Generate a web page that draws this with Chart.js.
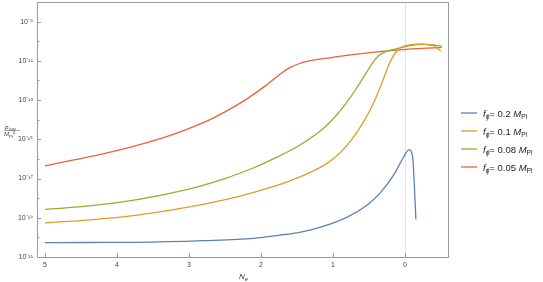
<!DOCTYPE html>
<html>
<head>
<meta charset="utf-8">
<script src="https://cdn.jsdelivr.net/npm/chart.js@4/dist/chart.umd.min.js"></script>
<style>
  body { margin: 0; background: #fff; }
  canvas { display: block; }
</style>
</head>
<body>
<canvas id="myChart" width="543" height="282"></canvas>
<script>
// e-folds N_e and rho / M_Pl^4
var blueN = [5.0, 4.4, 3.72, 2.79, 2.1, 1.74, 1.5, 1.27, 0.81, 0.53, 0.35, 0.16, 0.02, -0.03, -0.06, -0.09, -0.11, -0.13, -0.15];
var blueRho = [5.4e-21, 5.5e-21, 5.6e-21, 6.8e-21, 8.9e-21, 1.3e-20, 1.7e-20, 2.6e-20, 1.05e-19, 4.4e-19, 1.74e-18, 1.48e-17, 1.26e-16, 2.5e-16, 3.0e-16, 2.2e-16, 8.5e-17, 3.7e-18, 8.3e-20];

var orangeN = [5.0, 4.42, 3.72, 3.03, 2.33, 1.8, 1.4, 1.15, 1.0, 0.88, 0.75, 0.6, 0.45, 0.32, 0.2, 0.12, 0.04, -0.1, -0.25, -0.39, -0.5];
var orangeRho = [5.5e-20, 7.6e-20, 1.38e-19, 3.4e-19, 1.17e-18, 4.2e-18, 1.51e-17, 4.17e-17, 1.0e-16, 2.5e-16, 8.9e-16, 5.6e-15, 5.6e-14, 7.9e-13, 1.0e-11, 3.0e-11, 5.2e-11, 6.8e-11, 7.1e-11, 5.9e-11, 3.16e-11];

var greenN = [5.0, 4.42, 3.72, 3.03, 2.5, 2.1, 1.8, 1.5, 1.25, 1.1, 0.95, 0.8, 0.65, 0.53, 0.45, 0.38, 0.3, 0.2, 0.07, -0.16, -0.35, -0.51];
var greenRho = [2.69e-19, 3.89e-19, 8.5e-19, 2.75e-18, 1.0e-17, 3.55e-17, 1.12e-16, 4.17e-16, 1.66e-15, 4.68e-15, 1.74e-14, 8.5e-14, 5.5e-13, 2.75e-12, 7.9e-12, 1.66e-11, 2.63e-11, 3.47e-11, 4.57e-11, 6.8e-11, 6.6e-11, 5.6e-11];

var redN = [5.0, 4.6, 4.18, 3.72, 3.26, 2.8, 2.5, 2.2, 1.95, 1.75, 1.6, 1.45, 1.3, 1.0, 0.76, 0.07, -0.51];
var redRho = [4.47e-17, 8.9e-17, 1.86e-16, 4.9e-16, 1.58e-15, 7.1e-15, 2.5e-14, 1.12e-13, 5.0e-13, 1.9e-12, 4.5e-12, 7.6e-12, 1.05e-11, 1.51e-11, 2.0e-11, 3.6e-11, 4.9e-11];

var fValues = ["0.2", "0.1", "0.08", "0.05"];
var colors = ["#5E81B5", "#E19C24", "#8FB032", "#EB6235"];
var xTicks = [0, 1, 2, 3, 4, 5];
var yDecades = [-21, -20, -19, -18, -17, -16, -15, -14, -13, -12, -11, -10, -9];

var FONT = "'Liberation Sans', Arial, sans-serif";

function pts(xs, ys) {
  return xs.map(function (x, i) { return { x: x, y: ys[i] }; });
}

function sup(n) {
  var m = { "-": "\u207B", "0": "\u2070", "1": "\u00B9", "2": "\u00B2", "3": "\u00B3", "4": "\u2074",
            "5": "\u2075", "6": "\u2076", "7": "\u2077", "8": "\u2078", "9": "\u2079" };
  return String(n).split("").map(function (c) { return m[c]; }).join("");
}

// draws text pieces with italic / subscript / superscript parts
function rich(ctx, x, y, parts, size) {
  parts.forEach(function (p) {
    var s = p.sub || p.sup ? size * 0.7 : size;
    ctx.font = (p.it ? "italic " : "") + s + "px " + FONT;
    var dy = p.sub ? size * 0.3 : (p.sup ? -size * 0.4 : 0);
    ctx.fillText(p.t, x, y + dy);
    x += ctx.measureText(p.t).width;
  });
  return x;
}

var decor = {
  id: "decor",
  afterDraw: function (chart) {
    var ctx = chart.ctx, a = chart.chartArea;
    var xs = chart.scales.x, ys = chart.scales.y;
    ctx.save();
    // frame
    ctx.strokeStyle = "#9a9a9a";
    ctx.lineWidth = 1;
    ctx.strokeRect(a.left + 0.5, a.top + 0.5, a.right - a.left - 1, a.bottom - a.top);
    // inward ticks
    ctx.beginPath();
    xTicks.forEach(function (v) {
      var px = Math.round(xs.getPixelForValue(v)) + 0.5;
      ctx.moveTo(px, a.bottom); ctx.lineTo(px, a.bottom - 4);
    });
    yDecades.forEach(function (e) {
      var py = Math.round(ys.getPixelForValue(Math.pow(10, e))) + 0.5;
      var len = (e % 2 !== 0) ? 4 : 2.5;
      ctx.moveTo(a.left, py); ctx.lineTo(a.left + len, py);
    });
    ctx.stroke();

    ctx.fillStyle = "#333";
    ctx.textBaseline = "alphabetic";
    // x title
    rich(ctx, 239, 279, [{ t: "N", it: true }, { t: "e", it: true, sub: true }], 8);
    // y title as a fraction
    ctx.textAlign = "left";
    rich(ctx, 5, 129, [{ t: "\u03C1", it: true }, { t: "GW", sub: true }], 6);
    ctx.beginPath();
    ctx.strokeStyle = "#555";
    ctx.lineWidth = 0.5;
    ctx.moveTo(4, 130.5); ctx.lineTo(20, 130.5);
    ctx.stroke();
    rich(ctx, 4, 136, [{ t: "M", it: true }, { t: "Pl", sub: true }, { t: "4", sup: true }], 6);

    // legend
    fValues.forEach(function (f, i) {
      var y = 113 + i * 18;
      ctx.strokeStyle = colors[i];
      ctx.lineWidth = 1.3;
      ctx.beginPath();
      ctx.moveTo(461, y); ctx.lineTo(477, y);
      ctx.stroke();
      ctx.fillStyle = "#222";
      rich(ctx, 483, y + 3.5, [
        { t: "f", it: true }, { t: "\u03D5", it: true, sub: true },
        { t: "= " + f + " " }, { t: "M", it: true }, { t: "Pl", sub: true }
      ], 9.5);
    });
    ctx.restore();
  }
};

var names = ["f = 0.2", "f = 0.1", "f = 0.08", "f = 0.05"];
var series = [pts(blueN, blueRho), pts(orangeN, orangeRho), pts(greenN, greenRho), pts(redN, redRho)];

new Chart("myChart", {
  type: "line",
  data: {
    datasets: series.map(function (d, i) {
      return {
        label: names[i],
        data: d,
        borderColor: colors[i],
        backgroundColor: colors[i],
        borderWidth: 1.3,
        pointRadius: 0,
        fill: false,
        tension: 0.4,
        cubicInterpolationMode: i === 0 ? "monotone" : "default"
      };
    })
  },
  plugins: [decor],
  options: {
    responsive: false,
    animation: false,
    devicePixelRatio: 1,
    layout: { padding: { top: 2, right: 94, left: 0, bottom: 0 } },
    plugins: { legend: { display: false }, tooltip: { enabled: false } },
    scales: {
      x: {
        type: "linear",
        reverse: true,
        min: -0.61,
        max: 5.11,
        afterBuildTicks: function (s) { s.ticks = xTicks.map(function (v) { return { value: v }; }); },
        afterFit: function (s) { s.height = 25; s.paddingLeft = 0; s.paddingRight = 0; },
        grid: {
          drawTicks: false,
          color: function (c) { return c.tick && c.tick.value === 0 ? "#e4e4e4" : "rgba(0,0,0,0)"; }
        },
        border: { display: false },
        ticks: { padding: 4, color: "#444", font: { size: 7, family: FONT }, maxRotation: 0 }
      },
      y: {
        type: "logarithmic",
        min: 1e-21,
        max: 1e-8,
        afterBuildTicks: function (s) { s.ticks = yDecades.map(function (e) { return { value: Math.pow(10, e) }; }); },
        afterFit: function (s) { s.width = 37; s.paddingTop = 0; s.paddingBottom = 0; },
        grid: { display: false, drawTicks: false },
        border: { display: false },
        ticks: {
          padding: 4,
          color: "#444",
          font: { size: 7, family: FONT },
          autoSkip: false,
          callback: function (v) {
            var e = Math.round(Math.log10(v));
            return e % 2 !== 0 ? "10" + sup(e) : "";
          }
        }
      }
    }
  }
});
</script>
</body>
</html>
